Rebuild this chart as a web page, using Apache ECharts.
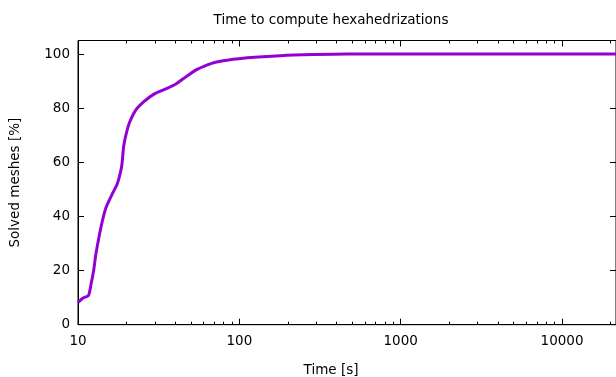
<!DOCTYPE html>
<html>
<head>
<meta charset="utf-8">
<script src="https://cdn.jsdelivr.net/npm/echarts@6/dist/echarts.min.js"></script>
<style>html,body{margin:0;padding:0;background:#fff}#c{width:616px;height:377px}</style>
</head>
<body>
<div id="c"></div>
<script>
const chartTitle = "Time to compute hexahedrizations";
const xAxisName = "Time [s]";
const yAxisName = "Solved meshes [%]";
const times =  [10, 10.7, 11.6, 12.0, 12.5, 12.9, 13.9, 14.9, 16.4, 17.5, 18.2, 18.7, 19.2, 19.8, 20.8, 22.8, 25.7, 29.6, 35.9, 40.4, 44, 47.7, 55, 63.4, 70, 84, 112, 180, 290, 465, 1000, 21600];
const solved = [8.2, 9.8, 10.8, 14.5, 20, 26, 36.2, 43.2, 48.6, 52, 55.5, 59, 66, 70, 74.5, 79.3, 82.5, 85.2, 87.4, 88.9, 90.5, 92.0, 94.4, 96.0, 96.9, 97.7, 98.6, 99.4, 99.8, 100, 100, 100];
const xMajorTicks = [10, 100, 1000, 10000];
const xMinorTicks = [20,30,40,50,60,70,80,90,200,300,400,500,600,700,800,900,2000,3000,4000,5000,6000,7000,8000,9000,20000];
const yTicks = [0, 20, 40, 60, 80, 100];
const xMin = 10, xMax = 21600, yMin = 0, yMax = 105;

const font = "DejaVu Sans";
const fs = 13.5;
const chart = echarts.init(document.getElementById('c'), null, {renderer: 'canvas'});
function xAx(pos, ticks, len, opts) {
  return Object.assign({
    type: 'log', logBase: 10, min: xMin, max: xMax, position: pos,
    axisLine: {show: false},
    axisTick: {show: true, inside: true, length: len, customValues: ticks, lineStyle: {color: '#000', width: 1}},
    axisLabel: {show: false},
    splitLine: {show: false}, minorTick: {show: false}, minorSplitLine: {show: false}
  }, opts || {});
}
chart.setOption({
  animation: false,
  backgroundColor: '#fff',
  title: [
    {text: chartTitle, left: 326, top: 8, textAlign: 'center',
     textStyle: {fontFamily: font, fontSize: fs, fontWeight: 'normal', color: '#000'}},
    {text: xAxisName, left: 326, top: 358, textAlign: 'center',
     textStyle: {fontFamily: font, fontSize: fs, fontWeight: 'normal', color: '#000'}}
  ],
  grid: {left: 77, right: 0, top: 40.5, bottom: 52.3, show: true, borderColor: '#000', borderWidth: 1, backgroundColor: 'transparent'},
  xAxis: [
    xAx('bottom', xMajorTicks, 6, {
      axisLine: {show: true, lineStyle: {color: '#000', width: 1}},
      axisLabel: {show: true, customValues: xMajorTicks, margin: 10, fontFamily: font, fontSize: fs, color: '#000',
        formatter: v => String(Math.round(v))}
    }),
    xAx('bottom', xMinorTicks, 3),
    xAx('top', xMajorTicks, 6),
    xAx('top', xMinorTicks, 3)
  ],
  yAxis: [
    {type: 'value', min: yMin, max: yMax, position: 'left',
     name: yAxisName, nameLocation: 'middle', nameGap: 56,
     nameTextStyle: {fontFamily: font, fontSize: fs, color: '#000'},
     axisLine: {show: true, lineStyle: {color: '#000', width: 1}},
     axisTick: {show: true, inside: true, length: 6, customValues: yTicks, lineStyle: {color: '#000'}},
     axisLabel: {show: true, customValues: yTicks, margin: 8, fontFamily: font, fontSize: fs, color: '#000'},
     splitLine: {show: false}},
    {type: 'value', min: yMin, max: yMax, position: 'right',
     axisLine: {show: false},
     axisTick: {show: true, inside: true, length: 6, customValues: yTicks, lineStyle: {color: '#000'}},
     axisLabel: {show: false}, splitLine: {show: false}}
  ],
  series: [{
    type: 'line', xAxisIndex: 0, yAxisIndex: 0,
    data: times.map((t, i) => [t, solved[i]]),
    showSymbol: false, smooth: 0.25,
    lineStyle: {color: '#9400d3', width: 3},
    itemStyle: {color: '#9400d3'}
  }]
});
</script>
</body>
</html>
